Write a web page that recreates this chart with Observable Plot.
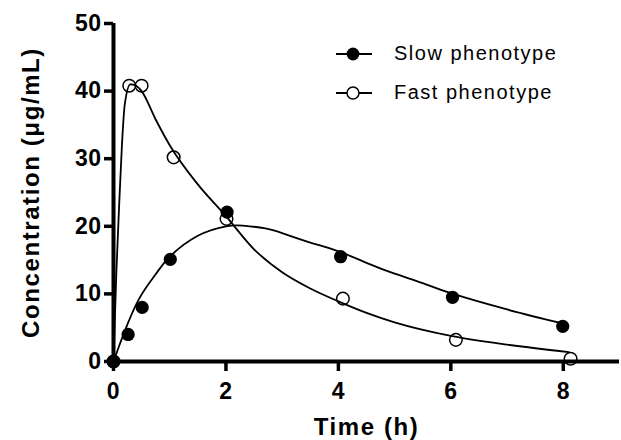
<!DOCTYPE html>
<html>
<head>
<meta charset="utf-8">
<script src="https://cdn.jsdelivr.net/npm/d3@7"></script>
<script src="https://cdn.jsdelivr.net/npm/@observablehq/plot@0.6"></script>
<style>
  html, body { margin: 0; padding: 0; background: #fff; }
  #wrap { position: relative; width: 621px; height: 440px; font-family: "Liberation Sans", Arial, sans-serif; }
  #legend { position: absolute; left: 336px; top: 34px; font-size: 20px; letter-spacing: 1.5px; color: #000; }
  .row { display: flex; align-items: center; height: 39px; }
  .row svg { margin-right: 22px; }
</style>
</head>
<body>
<div id="wrap"></div>
<script>
// Observed data
const slowTime = [0, 0.26, 0.51, 1.01, 2.02, 4.04, 6.03, 7.99];
const slowConc = [0, 4.0, 8.0, 15.1, 22.1, 15.5, 9.5, 5.2];
const fastTime = [0, 0.28, 0.5, 1.07, 2.01, 4.08, 6.09, 8.13];
const fastConc = [0, 40.8, 40.8, 30.2, 21.1, 9.3, 3.2, 0.4];

// Fitted curves
const slowCurveTime = [0, 0.1, 0.2, 0.45, 0.75, 1.0, 1.5, 2.0, 2.3, 2.7, 3.0, 3.5, 4.0, 4.5, 5.0, 5.5, 6.0, 7.0, 8.0];
const slowCurveConc = [0, 2.3, 4.5, 9.2, 12.9, 15.5, 18.6, 20.0, 20.1, 19.7, 19.0, 17.6, 16.3, 14.6, 13.0, 11.6, 10.1, 7.7, 5.6];
const fastCurveTime = [0, 0.05, 0.1, 0.15, 0.2, 0.3, 0.4, 0.5, 0.75, 1.0, 1.5, 2.0, 2.5, 3.0, 3.5, 4.0, 4.5, 5.0, 6.0, 7.0, 8.1];
const fastCurveConc = [0, 13, 23, 32, 38, 41.0, 40.8, 40.0, 35.8, 32.0, 26.2, 21.5, 16.6, 13.2, 10.8, 8.9, 7.2, 5.8, 3.8, 2.5, 1.4];

const xTicks = [0, 2, 4, 6, 8];
const yTicks = [0, 10, 20, 30, 40, 50];
const xLabel = "Time (h)";
const yLabel = "Concentration (μg/mL)";
const seriesNames = ["Slow phenotype", "Fast phenotype"];

const zip = (a, b) => a.map((t, i) => ({t, c: b[i]}));
const slowPts = zip(slowTime, slowConc);
const fastPts = zip(fastTime, fastConc);
const slowCurve = zip(slowCurveTime, slowCurveConc);
const fastCurve = zip(fastCurveTime, fastCurveConc);

const chart = Plot.plot({
  width: 621,
  height: 440,
  marginLeft: 113,
  marginRight: 2,
  marginTop: 23,
  marginBottom: 79,
  style: {fontFamily: "'Liberation Sans', Arial, sans-serif", background: "#fff", overflow: "visible"},
  x: {domain: [0, 9]},
  y: {domain: [0, 50]},
  marks: [
    Plot.axisY({ticks: yTicks, tickSize: 9, tickPadding: 3, strokeWidth: 3.5, fontSize: 23, fontWeight: "bold", label: null, fill: "#000", stroke: "#000"}),
    Plot.axisX({ticks: xTicks, tickSize: 10, tickPadding: 11, strokeWidth: 3.5, fontSize: 23, fontWeight: "bold", label: null, fill: "#000", stroke: "#000"}),
    Plot.ruleX([0], {stroke: "#000", strokeWidth: 4}),
    Plot.ruleY([0], {stroke: "#000", strokeWidth: 4}),
    Plot.text([yLabel], {frameAnchor: "left", rotate: -90, dx: -82, textAnchor: "middle", lineAnchor: "middle", fontSize: 24, fontWeight: "bold", fill: "#000"}),
    Plot.text([xLabel], {frameAnchor: "bottom", dy: 66, textAnchor: "middle", lineAnchor: "middle", fontSize: 24, fontWeight: "bold", fill: "#000"}),
    Plot.line(slowCurve, {x: "t", y: "c", curve: "natural", stroke: "#000", strokeWidth: 1.8}),
    Plot.line(fastCurve, {x: "t", y: "c", curve: "monotone-x", stroke: "#000", strokeWidth: 1.8}),
    Plot.dot(fastPts, {x: "t", y: "c", r: 6.3, stroke: "#000", strokeWidth: 1.5, fill: "none"}),
    Plot.dot(slowPts, {x: "t", y: "c", r: 6.6, fill: "#000", stroke: "none"})
  ]
});

const svg = d3.select(chart);
svg.selectAll("text").each(function () {
  const t = d3.select(this);
  const g = d3.select(this.closest("g"));
  const lab = g.attr("aria-label") || "";
  if (lab.includes("tick label")) t.attr("font-size", 23).style("letter-spacing", "0.5px");
});
svg.selectAll("g[aria-label='text'] text").style("letter-spacing", "1.6px");

const wrap = document.getElementById("wrap");
wrap.appendChild(chart);

const legend = document.createElement("div");
legend.id = "legend";
legend.innerHTML = `
  <div class="row"><svg width="36" height="16"><line x1="0" y1="8" x2="36" y2="8" stroke="#000" stroke-width="2"/><circle cx="17" cy="8" r="6.4" fill="#000"/></svg><span>${seriesNames[0]}</span></div>
  <div class="row"><svg width="36" height="16"><line x1="0" y1="8" x2="36" y2="8" stroke="#000" stroke-width="2"/><circle cx="17" cy="8" r="6" fill="#fff" stroke="#000" stroke-width="1.5"/></svg><span>${seriesNames[1]}</span></div>`;
wrap.appendChild(legend);
</script>
</body>
</html>
